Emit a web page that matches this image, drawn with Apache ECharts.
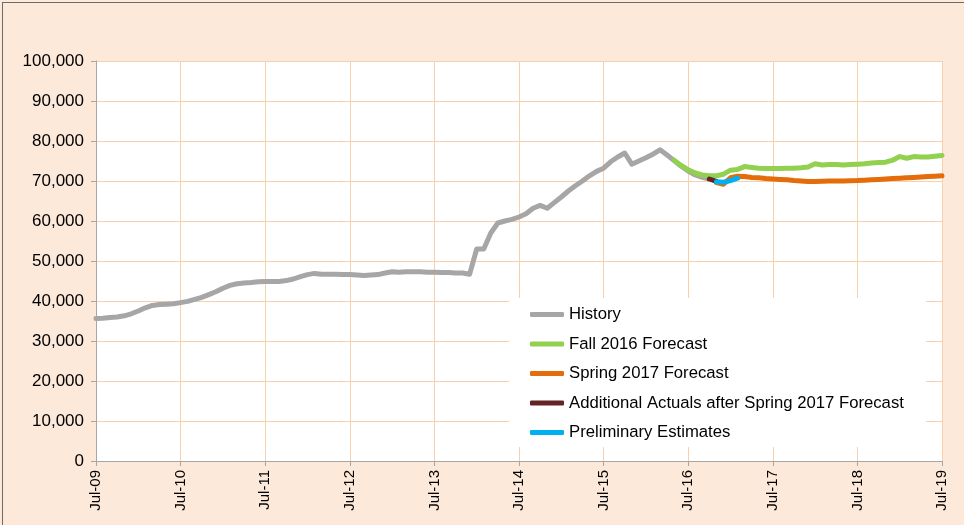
<!DOCTYPE html>
<html>
<head>
<meta charset="utf-8">
<script src="https://cdn.jsdelivr.net/npm/echarts@6/dist/echarts.min.js"></script>
<style>
html,body{margin:0;padding:0;background:#FDE9D9;}
#chart{position:absolute;left:0;top:0;width:964px;height:525px;}
#frame{position:absolute;left:2px;top:2px;width:970px;height:530px;border-top:1px solid #6b6b6b;border-left:1px solid #6b6b6b;pointer-events:none;}
</style>
</head>
<body>
<div id="chart"></div>
<div id="frame"></div>
<script>
// Monthly categories Jul-09 .. Jul-19
const monthNames = ['Jan','Feb','Mar','Apr','May','Jun','Jul','Aug','Sep','Oct','Nov','Dec'];
const categories = [];
for (let k = 0; k <= 120; k++) {
  const m = (6 + k) % 12;
  const y = 9 + Math.floor((6 + k) / 12);
  categories.push(monthNames[m] + '-' + String(y).padStart(2, '0'));
}
const yTicks = [0, 10000, 20000, 30000, 40000, 50000, 60000, 70000, 80000, 90000, 100000];

// History: Jul-09 .. Oct-16
const historyStart = 'Jul-09';
const historyValues = [
  35600, 35700, 35900, 36000, 36300, 36800, 37500, 38300, 38900, 39100, 39200, 39300,
  39600, 39900, 40400, 40900, 41600, 42300, 43200, 43900, 44300, 44500, 44600, 44800,
  44900, 44900, 44900, 45100, 45500, 46100, 46600, 46900, 46700, 46700, 46700, 46600,
  46600, 46500, 46400, 46500, 46600, 47000, 47300, 47200, 47300, 47300, 47300, 47200,
  47200, 47100, 47100, 47000, 47000, 46700, 53000, 53000, 57000, 59500, 60000, 60400,
  61000, 61800, 63200, 63900, 63200, 64600, 66000, 67500, 68800, 70000, 71300, 72400,
  73200, 74800, 76000, 77000, 74200, 75000, 75800, 76700, 77800, 76500, 75100, 73700,
  72500, 71500, 70900, 70500
];
// Fall 2016 Forecast: May-16 .. Jul-19
const fallStart = 'May-16';
const fallValues = [
  75200, 73900, 72800, 72000, 71500, 71300, 71300, 71700, 72700, 72900, 73600, 73400,
  73200, 73100, 73100, 73100, 73200, 73200, 73300, 73500, 74300, 74000, 74100, 74100,
  74000, 74100, 74200, 74300, 74500, 74600, 74700, 75200, 76100, 75700, 76100, 76000,
  76000, 76200, 76400
];
// Spring 2017 Forecast: Nov-16 .. Jul-19
const springStart = 'Nov-16';
const springValues = [
  69600, 69200, 70800, 71200, 71100, 70900, 70800, 70600, 70500, 70400, 70300, 70100,
  70000, 69900, 69900, 69950, 70000, 70000, 70000, 70050, 70100, 70200, 70300, 70400,
  70500, 70600, 70700, 70800, 70900, 71000, 71100, 71200, 71300
];
// Additional Actuals after Spring 2017 Forecast: Oct-16 .. Nov-16
const actualsStart = 'Oct-16';
const actualsValues = [70500, 69900];
// Preliminary Estimates: Nov-16 .. Feb-17
const prelimStart = 'Nov-16';
const prelimValues = [69800, 69700, 70100, 70700];

function pad(startLabel, values) {
  const s = categories.indexOf(startLabel);
  const out = new Array(categories.length).fill(null);
  values.forEach((v, i) => { out[s + i] = v; });
  return out;
}

const font = 'Liberation Sans, Arial, sans-serif';
const gridColor = '#FAD0AC';
const axisColor = '#A6A6A6';

function lineSeries(name, color, data) {
  return {
    name: name, type: 'line', data: data, symbol: 'none', connectNulls: false,
    lineStyle: { color: color, width: 5, cap: 'round', join: 'round' },
    itemStyle: { color: color },
    emphasis: { disabled: true },
    animation: false
  };
}

const chart = echarts.init(document.getElementById('chart'), null, { renderer: 'canvas' });
chart.setOption({
  backgroundColor: 'transparent',
  animation: false,
  grid: { left: 96, right: 22, top: 61, bottom: 64, containLabel: false, show: true, backgroundColor: '#FFFFFF', borderWidth: 0 },
  xAxis: {
    type: 'category', data: categories, boundaryGap: false,
    axisLine: { show: true, lineStyle: { color: axisColor, width: 1 } },
    axisTick: { show: true, interval: 11, length: 5, lineStyle: { color: axisColor } },
    axisLabel: { interval: 11, rotate: 90, margin: 9, color: '#000', fontFamily: font, fontSize: 15 },
    splitLine: { show: true, interval: 11, lineStyle: { color: gridColor, width: 1 } }
  },
  yAxis: {
    type: 'value', min: yTicks[0], max: yTicks[yTicks.length - 1], interval: 10000,
    axisLine: { show: true, lineStyle: { color: axisColor, width: 1 } },
    axisTick: { show: true, length: 5, lineStyle: { color: axisColor } },
    axisLabel: { margin: 12, color: '#000', fontFamily: font, fontSize: 17,
      formatter: v => v.toLocaleString('en-US') },
    splitLine: { show: true, lineStyle: { color: gridColor, width: 1 } }
  },
  legend: {
    orient: 'vertical', left: 509, top: 298,
    backgroundColor: '#FFFFFF',
    padding: [8, 22, 6, 21],
    icon: 'roundRect',
    itemWidth: 34, itemHeight: 5, itemGap: 12.5,
    textStyle: { color: '#000', fontFamily: font, fontSize: 16.7 },
    data: ['History', 'Fall 2016 Forecast', 'Spring 2017 Forecast', 'Additional Actuals after Spring 2017 Forecast', 'Preliminary Estimates'],
    selectedMode: false
  },
  series: [
    lineSeries('History', '#A6A6A6', pad(historyStart, historyValues)),
    lineSeries('Fall 2016 Forecast', '#92D050', pad(fallStart, fallValues)),
    lineSeries('Spring 2017 Forecast', '#E46C0A', pad(springStart, springValues)),
    lineSeries('Additional Actuals after Spring 2017 Forecast', '#632523', pad(actualsStart, actualsValues)),
    lineSeries('Preliminary Estimates', '#00B0F0', pad(prelimStart, prelimValues))
  ]
});
</script>
</body>
</html>
